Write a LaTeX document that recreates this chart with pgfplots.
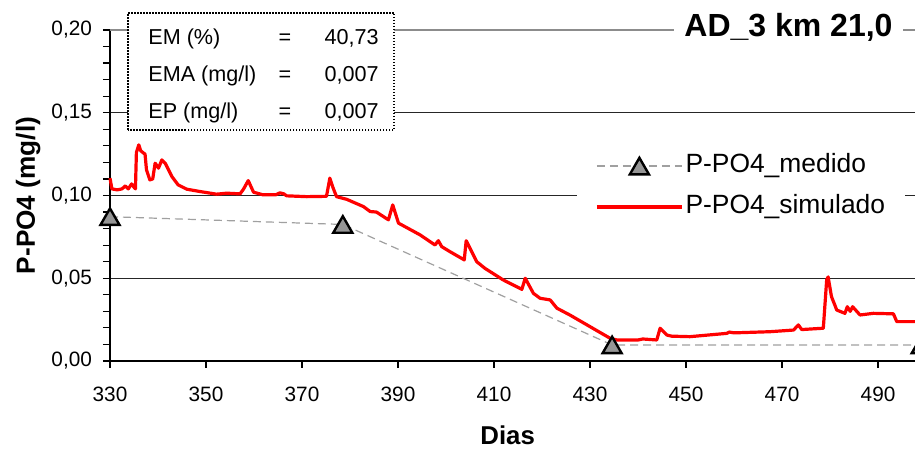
\documentclass[border=0pt]{standalone}
\usepackage{pgfplots}
\pgfplotsset{compat=1.18}
\usepackage{fontspec}
\setmainfont{Liberation Sans}
\definecolor{mgray}{RGB}{150,150,150}
\definecolor{dgray}{RGB}{160,160,160}
\definecolor{tgray}{RGB}{140,140,140}
\begin{document}
\begin{tikzpicture}
\begin{axis}[
  name=ax,
  scale only axis,
  width=402.5pt, height=165.5pt,
  xmin=330, xmax=497.7,
  ymin=0, ymax=0.20,
  clip=false,
  axis x line*=bottom,
  axis y line*=left,
  axis line style={line width=0.6pt, black},
  xtick={330,350,...,490},
  ytick={0,0.05,0.10,0.15,0.20},
  minor ytick={0.01,0.02,0.03,0.04,0.06,0.07,0.08,0.09,0.11,0.12,0.13,0.14,0.16,0.17,0.18,0.19},
  tick align=outside,
  major tick length=3.5pt,
  minor tick length=3.5pt,
  tick style={line width=0.6pt, black},
  ymajorgrids,
  major grid style={line width=0.5pt, black!85},
  extra y ticks={0.2},
  extra y tick labels={},
  extra y tick style={major grid style={line width=1.2pt, tgray}, major tick length=0pt},
  /pgf/number format/assume math mode=true,
  yticklabel={\pgfmathprintnumber[fixed, fixed zerofill, precision=2, use comma]{\tick}},
  xticklabel={\pgfmathprintnumber[fixed, precision=0]{\tick}},
  ticklabel style={font=\fontsize{10.4}{12}\selectfont},
  yticklabel style={xshift=-2pt},
  xticklabel style={yshift=-6pt},
  xlabel={Dias},
  ylabel={P-PO4 (mg/l)},
  xlabel style={font=\bfseries\fontsize{12.9}{15}\selectfont, at={(axis description cs:0.494,-0.2508)}, anchor=base},
  ylabel style={font=\bfseries\fontsize{13.1}{15}\selectfont, at={(axis description cs:-0.0932,0.5)}, anchor=base},
  legend cell align=left,
  legend style={at={(rel axis cs:0.58,0.527)}, anchor=west, fill=white, draw=none,
    font=\fontsize{13.2}{15}\selectfont, inner xsep=9pt, inner ysep=4pt, row sep=6.2pt,
    nodes={inner sep=1pt, text height=9.5pt, text depth=2.8pt}},
  legend image code/.code={\draw[mark repeat=2, mark phase=2, #1] plot coordinates {(0pt,0pt)(21.25pt,0pt)(42.5pt,0pt)};},
]
\addplot[dgray, line width=0.6pt, dash pattern=on 4pt off 2.5pt,
  mark=triangle*, mark size=5.5pt,
  mark options={solid, fill=mgray, draw=black, line width=1.2pt, yshift=-1.375pt}]
  coordinates {(330,0.0872)(378.5,0.0825)(434.6,0.0097)(499,0.0097)};
\addlegendentry{P-PO4\_medido}
\addplot[red, line width=1.6pt, line join=round, mark=none]
  coordinates {
(330,0.1105)(330.4,0.1040)(331.5,0.1034)(332.5,0.1040)(333.2,0.1058)(333.8,0.1040)(334.5,0.1070)(335.0,0.1050)(335.3,0.1040)
(335.5,0.1260)(336.0,0.1306)(336.4,0.1270)(337.0,0.1256)(337.3,0.1250)(337.6,0.1155)(338.3,0.1094)(338.9,0.1100)
(339.4,0.1195)(339.8,0.1180)(340.1,0.1165)(340.8,0.1215)(341.5,0.1195)(342.9,0.1114)(344.2,0.1064)(346,0.1038)
(348.75,0.1024)(352.2,0.1008)(354.3,0.1014)(357.1,0.1010)(357.8,0.1038)(358.8,0.1090)(359.9,0.1020)(361.9,0.1004)
(364.5,0.1004)(365.4,0.1016)(366.2,0.1010)(366.8,0.0998)(371,0.0993)(375.1,0.0995)(375.8,0.1105)(376.5,0.1044)
(377.2,0.0993)(379.3,0.0977)(382.8,0.0933)(384.2,0.0903)(385.5,0.0900)(388,0.0853)(388.9,0.0943)(390.1,0.0833)
(394.6,0.0762)(397.7,0.0701)(398.4,0.0727)(399.1,0.0691)(400.8,0.0661)(403.8,0.0611)(404.2,0.0727)(405,0.0681)
(406.4,0.0600)(408.1,0.0560)(411.9,0.0490)(415.8,0.0433)(416.5,0.0500)(418.2,0.0409)(419.6,0.0379)(421.7,0.0369)
(423.1,0.0319)(425.8,0.0278)(434.2,0.0137)(435.6,0.0127)(440,0.0127)(441,0.0133)(443.9,0.0127)(444.6,0.0198)
(446,0.0157)(447,0.0150)(450.8,0.0147)(458.5,0.0167)(459,0.0175)(460,0.0170)(467.5,0.0177)(472.4,0.0187)
(473.4,0.0218)(474.1,0.0190)(478.6,0.0198)(479.3,0.0490)(479.6,0.0508)(480.3,0.0389)(481.4,0.0308)(483.1,0.0288)
(483.6,0.0328)(484.2,0.0300)(484.7,0.0328)(486.25,0.0278)(489,0.0288)(493.2,0.0285)(493.9,0.0238)(497.7,0.0238)
};
\addlegendentry{P-PO4\_simulado}
\end{axis}
% title
\node[anchor=base, fill=white, inner xsep=5pt, inner ysep=2pt, font=\bfseries\fontsize{16}{19}\selectfont]
  at (339.25pt,162.1pt) {AD\_3 km 21,0};
% statistics box
\draw[fill=white, line width=0.9pt, dash pattern=on 0.75pt off 0.75pt] (9pt,115.5pt) rectangle (142pt,174pt);
\begin{scope}[every node/.style={inner sep=0pt, font=\fontsize{10.8}{13}\selectfont}]
\node[anchor=base west] at (19pt,158.1pt) {EM (\%)};
\node[anchor=base] at (87.5pt,158.1pt) {=};
\node[anchor=base east] at (134.5pt,158.1pt) {40,73};
\node[anchor=base west] at (19pt,139.6pt) {EMA (mg/l)};
\node[anchor=base] at (87.5pt,139.6pt) {=};
\node[anchor=base east] at (134.5pt,139.6pt) {0,007};
\node[anchor=base west] at (19pt,121.1pt) {EP (mg/l)};
\node[anchor=base] at (87.5pt,121.1pt) {=};
\node[anchor=base east] at (134.5pt,121.1pt) {0,007};
\end{scope}
\pgfresetboundingbox
\useasboundingbox (-55pt,-44pt) rectangle (402.5pt,180.5pt);
\end{tikzpicture}
\end{document}
